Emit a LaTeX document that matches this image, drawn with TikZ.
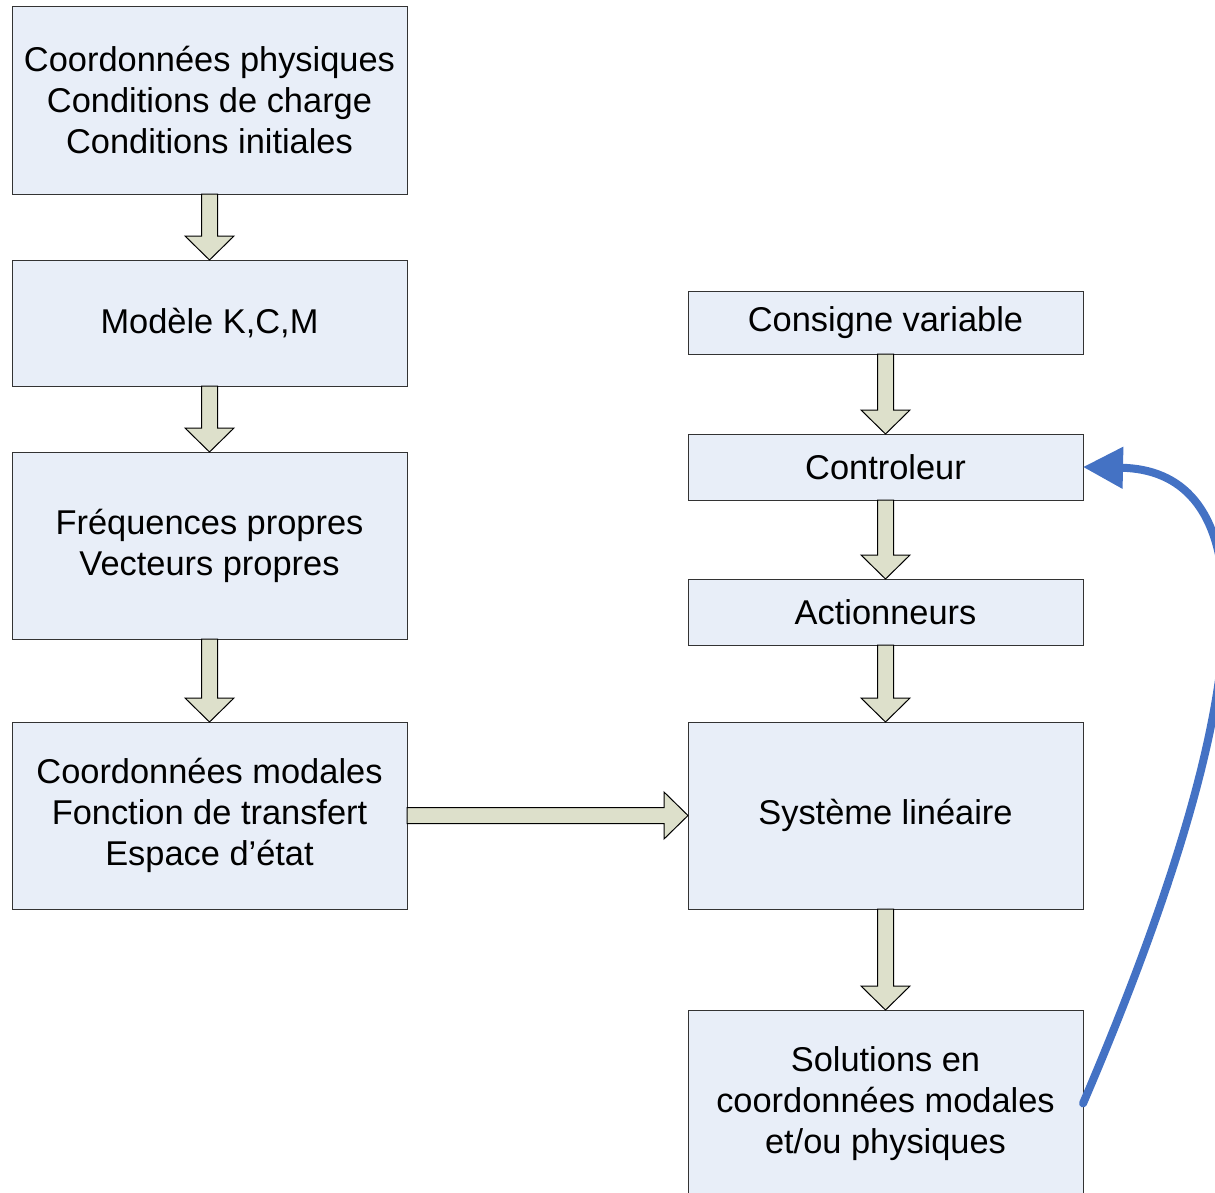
\documentclass[tikz,border=0pt]{standalone}
\usepackage{fontspec}
\setmainfont{Liberation Sans}
\usepackage{xcolor}
\usetikzlibrary{positioning,arrows.meta,calc}
\definecolor{boxfill}{HTML}{E8EEF8}
\definecolor{arrfill}{HTML}{DDE0CB}
\definecolor{fbblue}{HTML}{4472C4}
% block arrows between two boxes
\newcommand{\downblk}[2]{%
  \draw[blk] ($(#1.south)+(-8,0)$) |- ($(#2.north)+(-24.5,-24)$) -- (#2.north)
    -- ($(#2.north)+(24.5,-24)$) -| ($(#1.south)+(8,0)$) -- cycle;}
\newcommand{\rightblk}[2]{%
  \draw[blk] ($(#1.east)+(0,-8)$) -| ($(#2.west)+(-24,-23.5)$) -- (#2.west)
    -- ($(#2.west)+(-24,23.5)$) |- ($(#1.east)+(0,8)$) -- cycle;}

\begin{document}
\begin{tikzpicture}[
  x=0.5pt, y=-0.5pt,
  box/.style={draw=black!80, line width=0.5pt, fill=boxfill, minimum width=197.5pt,
              align=center, inner sep=0pt, outer sep=0pt,
              font=\fontsize{17.2}{20.5}\selectfont},
  tall/.style={box, minimum height=93.5pt},
  blk/.style={draw=black, line width=0.5pt, fill=arrfill},
  fb/.style={-{Triangle[length=20pt,width=20pt]}, fbblue, line width=4pt, line cap=round},
]
\useasboundingbox (0,0) rectangle (1215,1193);
% left column
\node[tall] (phys) at (209.5,100.5) {Coordonnées physiques\\Conditions de charge\\Conditions initiales};
\node[box, minimum height=63pt, below=33pt of phys] (kcm) {Modèle K,C,M};
\node[tall, below=33pt of kcm] (freq) {Fréquences propres\\Vecteurs propres};
\node[tall, below=41.5pt of freq] (modal) {Coordonnées modales\\Fonction de transfert\\Espace d’état};
% right column
\node[box, minimum height=31.5pt] (cons) at (885.5,322.5) {Consigne variable};
\node[box, minimum height=33pt, below=40pt of cons] (ctrl) {Controleur};
\node[box, minimum height=33pt, below=39.5pt of ctrl] (act) {Actionneurs};
\node[tall, below=38.5pt of act] (sys) {Système linéaire};
\node[tall, below=50.5pt of sys] (sol) {Solutions en\\coordonnées modales\\et/ou physiques};

\downblk{phys}{kcm}
\downblk{kcm}{freq}
\downblk{freq}{modal}
\downblk{cons}{ctrl}
\downblk{ctrl}{act}
\downblk{act}{sys}
\downblk{sys}{sol}
\rightblk{modal}{sys}

\draw[fb] (sol.east) .. controls (1290,620) and (1240,470) .. (ctrl.east);
\end{tikzpicture}
\end{document}
